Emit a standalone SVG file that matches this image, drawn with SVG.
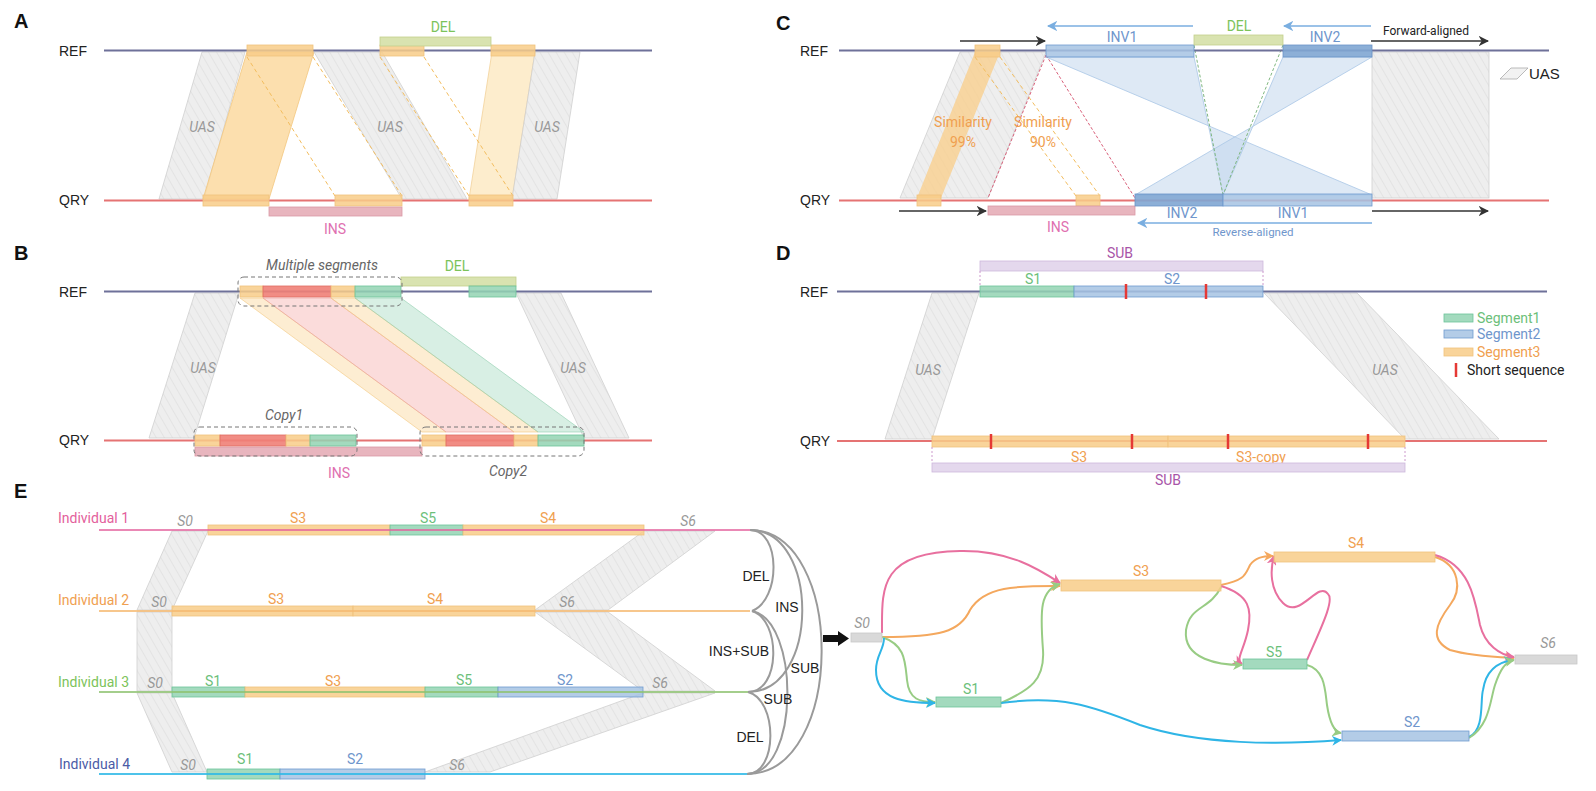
<svg xmlns="http://www.w3.org/2000/svg" width="1596" height="791" viewBox="0 0 1596 791">
<defs>
<pattern id="hatch" patternUnits="userSpaceOnUse" width="7" height="7" patternTransform="rotate(-30)">
<rect width="7" height="7" fill="#eeeeee"/>
<line x1="0" y1="0" x2="0" y2="7" stroke="#dedede" stroke-width="1.3"/>
</pattern>
<marker id="ak" viewBox="0 0 10 10" refX="9" refY="5" markerWidth="7" markerHeight="7" orient="auto-start-reverse"><path d="M0,0 L10,5 L0,10 L3,5 Z" fill="#333"/></marker>
<marker id="ab" viewBox="0 0 10 10" refX="9" refY="5" markerWidth="7" markerHeight="7" orient="auto-start-reverse"><path d="M0,0 L10,5 L0,10 L3,5 Z" fill="#7aaee0"/></marker>
<marker id="mp" viewBox="0 0 10 10" refX="9" refY="5" markerWidth="5" markerHeight="5" orient="auto"><path d="M0,0 L10,5 L0,10 L3,5 Z" fill="#e8709f"/></marker>
<marker id="mo" viewBox="0 0 10 10" refX="9" refY="5" markerWidth="5" markerHeight="5" orient="auto"><path d="M0,0 L10,5 L0,10 L3,5 Z" fill="#f4a85e"/></marker>
<marker id="mg" viewBox="0 0 10 10" refX="9" refY="5" markerWidth="5" markerHeight="5" orient="auto"><path d="M0,0 L10,5 L0,10 L3,5 Z" fill="#98cc84"/></marker>
<marker id="mc" viewBox="0 0 10 10" refX="9" refY="5" markerWidth="5" markerHeight="5" orient="auto"><path d="M0,0 L10,5 L0,10 L3,5 Z" fill="#2fb5e6"/></marker>
</defs>
<style>
.pl{font-family:"Liberation Sans",Arial,sans-serif;font-weight:bold;font-size:20px;fill:#111}
.t{font-family:Roboto,"Liberation Sans",sans-serif;font-size:14px}
.a{font-family:"Liberation Sans",Arial,sans-serif;font-size:14px;fill:#222}
.m{text-anchor:middle}
.blk{fill:#222}
.it{font-style:italic;fill:#999}
.uas{fill:url(#hatch);stroke:#cfcfcf;stroke-width:0.8}
.ref{stroke:#6e7199;stroke-width:2}
.qry{stroke:#e57373;stroke-width:2}
.ob{fill:#f8cd88;fill-opacity:0.85;stroke:#f1c27d;stroke-width:0.8}
.rb{fill:#ef7f77;fill-opacity:0.9;stroke:#e06b62;stroke-width:0.8}
.gb{fill:#93d4b3;fill-opacity:0.85;stroke:#6cc49a;stroke-width:0.8}
.bb{fill:#a6c3e3;fill-opacity:0.85;stroke:#6f9bd0;stroke-width:0.8}
.bd{fill:#7fa6d3;fill-opacity:0.9;stroke:#6a93c8;stroke-width:0.8}
.del{fill:#d9e3b0;stroke:#c3d08c;stroke-width:0.8}
.ins{fill:#e8b5be;stroke:#d99aa5;stroke-width:0.8}
.sub{fill:#e4d8ed;stroke:#cdb8dc;stroke-width:0.8}
.cg{fill:#7cc35a}.cp{fill:#e070b0}.co{fill:#f0a050}.cb{fill:#6f96cc}.cgs{fill:#6cbf7a}.cpu{fill:#a855a8}
.dso{stroke:#f3bd5e;stroke-width:1;stroke-dasharray:4 3;fill:none}
.dbox{fill:none;stroke:#777;stroke-width:1;stroke-dasharray:4 3}
.tick{stroke:#e53935;stroke-width:2.5}
.arc{fill:none;stroke:#9a9a9a;stroke-width:2}
.e{fill:none;stroke-width:2}
.inv{fill:#c3d7ec;fill-opacity:0.55;stroke:#a9c6e6;stroke-width:0.8}
</style>

<!-- Panel A -->
<g id="panelA">
<text class="pl" x="14" y="28">A</text>
<text class="a" x="59" y="56">REF</text>
<text class="a" x="59" y="205">QRY</text>
<polygon class="uas" points="202,52 245,52 204,199 159,199"/>
<polygon points="247,52 314,52 269,199 203,199" fill="#fbd9a0" fill-opacity="0.85" stroke="#f3c77e" stroke-width="0.8"/>
<polygon class="uas" points="314,52 382,52 467,199 402,199"/>
<polygon points="492,52 535,52 512,199 469,199" fill="#fdebc8" fill-opacity="0.9" stroke="#f3d29a" stroke-width="0.8"/>
<polygon class="uas" points="535,52 580,52 557,199 512,199"/>
<line class="dso" x1="247" y1="57" x2="335" y2="196"/>
<line class="dso" x1="313" y1="57" x2="402" y2="196"/>
<line class="dso" x1="380" y1="57" x2="469" y2="196"/>
<line class="dso" x1="424" y1="57" x2="513" y2="196"/>
<line class="ref" x1="104" y1="50.5" x2="652" y2="50.5"/>
<line class="qry" x1="104" y1="200.5" x2="652" y2="200.5"/>
<rect class="ob" x="247" y="45" width="66" height="11"/>
<rect class="ob" x="380" y="45" width="44" height="11"/>
<rect class="ob" x="491" y="45" width="44" height="11"/>
<rect class="ob" x="203" y="195" width="66" height="11"/>
<rect class="ob" x="335" y="195" width="67" height="11"/>
<rect class="ob" x="469" y="195" width="44" height="11"/>
<rect class="del" x="380" y="37" width="111" height="9"/>
<text class="t m cg" x="443" y="32">DEL</text>
<rect class="ins" x="269" y="207" width="133" height="9"/>
<text class="t m cp" x="335" y="234">INS</text>
<text class="t m it" x="202" y="132">UAS</text>
<text class="t m it" x="390" y="132">UAS</text>
<text class="t m it" x="547" y="132">UAS</text>
</g>

<!-- Panel B -->
<g id="panelB">
<text class="pl" x="14" y="260">B</text>
<text class="a" x="59" y="297">REF</text>
<text class="a" x="59" y="445">QRY</text>
<polygon class="uas" points="195,293 239,293 194,438 149,438"/>
<polygon class="uas" points="516,293 561,293 629,438 584,438"/>
<polygon points="240,298 263,298 446,432 422,432" fill="#fbdca5" fill-opacity="0.5" stroke="#f3c77e" stroke-width="0.6"/>
<polygon points="263,298 331,298 514,432 446,432" fill="#f7b2b0" fill-opacity="0.45" stroke="#eaa0a0" stroke-width="0.6"/>
<polygon points="331,298 355,298 538,432 514,432" fill="#fbdca5" fill-opacity="0.5" stroke="#f3c77e" stroke-width="0.6"/>
<polygon points="355,298 401,298 584,432 538,432" fill="#a9dcc3" fill-opacity="0.45" stroke="#90cfae" stroke-width="0.6"/>
<line class="ref" x1="104" y1="291.5" x2="652" y2="291.5"/>
<line class="qry" x1="104" y1="440.5" x2="652" y2="440.5"/>
<rect class="del" x="401" y="277" width="115" height="9"/>
<text class="t m cg" x="457" y="271">DEL</text>
<rect class="ob" x="240" y="286" width="23" height="11"/>
<rect class="rb" x="263" y="286" width="68" height="11"/>
<rect class="ob" x="331" y="286" width="24" height="11"/>
<rect class="gb" x="355" y="286" width="46" height="11"/>
<rect class="gb" x="469" y="286" width="47" height="11"/>
<rect class="dbox" x="238" y="277" width="164" height="29" rx="6"/>
<text class="t m it" x="322" y="270" style="fill:#666">Multiple segments</text>
<rect class="ins" x="195" y="447" width="227" height="9"/>
<rect class="ob" x="195" y="435" width="25" height="11"/>
<rect class="rb" x="220" y="435" width="66" height="11"/>
<rect class="ob" x="286" y="435" width="24" height="11"/>
<rect class="gb" x="310" y="435" width="46" height="11"/>
<rect class="ob" x="422" y="435" width="24" height="11"/>
<rect class="rb" x="446" y="435" width="68" height="11"/>
<rect class="ob" x="514" y="435" width="24" height="11"/>
<rect class="gb" x="538" y="435" width="46" height="11"/>
<rect class="dbox" x="194" y="427" width="163" height="29" rx="6"/>
<rect class="dbox" x="420" y="427" width="164" height="29" rx="6"/>
<text class="t m it" x="284" y="420" style="fill:#666">Copy1</text>
<text class="t m it" x="508" y="476" style="fill:#666">Copy2</text>
<text class="t m cp" x="339" y="478">INS</text>
<text class="t m it" x="203" y="373">UAS</text>
<text class="t m it" x="573" y="373">UAS</text>
</g>

<!-- Panel C -->
<g id="panelC">
<text class="pl" x="776" y="30">C</text>
<text class="a" x="800" y="56">REF</text>
<text class="a" x="800" y="205">QRY</text>
<polygon class="uas" points="960,52 1046,52 988,198 900,198"/>
<rect class="uas" x="1372" y="52" width="117" height="146"/>
<polygon points="975,52 1000,52 941,198 917,198" fill="#f9d08f" fill-opacity="0.8"/>
<polygon class="inv" points="1046,57 1194,57 1223,195 1372,195"/>
<polygon class="inv" points="1283,57 1372,57 1135,195 1223,195"/>
<line x1="1194" y1="45" x2="1223" y2="195" stroke="#7fb77f" stroke-width="1" stroke-dasharray="3 2"/>
<line x1="1283" y1="45" x2="1223" y2="195" stroke="#7fb77f" stroke-width="1" stroke-dasharray="3 2"/>
<line x1="1046" y1="55" x2="988" y2="198" stroke="#d9607a" stroke-width="1" stroke-dasharray="3 2"/>
<line x1="1046" y1="55" x2="1135" y2="198" stroke="#d9607a" stroke-width="1" stroke-dasharray="3 2"/>
<line class="dso" x1="975" y1="57" x2="1076" y2="196"/>
<line class="dso" x1="1000" y1="57" x2="1100" y2="196"/>
<line class="ref" x1="839" y1="50.5" x2="1549" y2="50.5"/>
<line class="qry" x1="839" y1="200.5" x2="1549" y2="200.5"/>
<rect class="ob" x="975" y="45" width="25" height="12"/>
<rect class="bb" x="1046" y="45" width="148" height="12"/>
<rect class="bd" x="1283" y="45" width="89" height="12"/>
<rect class="del" x="1194" y="35" width="89" height="10"/>
<rect class="ob" x="917" y="195" width="24" height="11"/>
<rect class="ob" x="1076" y="195" width="24" height="11"/>
<rect class="ins" x="988" y="206" width="147" height="9"/>
<rect class="bd" x="1135" y="194" width="88" height="12"/>
<rect class="bb" x="1223" y="194" width="149" height="12"/>
<line x1="960" y1="41" x2="1045" y2="41" stroke="#333" stroke-width="1.5" marker-end="url(#ak)"/>
<line x1="1371" y1="41" x2="1488" y2="41" stroke="#333" stroke-width="1.5" marker-end="url(#ak)"/>
<line x1="899" y1="211" x2="986" y2="211" stroke="#333" stroke-width="1.5" marker-end="url(#ak)"/>
<line x1="1372" y1="211" x2="1488" y2="211" stroke="#333" stroke-width="1.5" marker-end="url(#ak)"/>
<line x1="1193" y1="26" x2="1048" y2="26" stroke="#7aaee0" stroke-width="1.5" marker-end="url(#ab)"/>
<line x1="1371" y1="26" x2="1284" y2="26" stroke="#7aaee0" stroke-width="1.5" marker-end="url(#ab)"/>
<line x1="1372" y1="223" x2="1138" y2="223" stroke="#7aaee0" stroke-width="1.5" marker-end="url(#ab)"/>
<text class="t m cb" x="1122" y="42">INV1</text>
<text class="t m cb" x="1325" y="42">INV2</text>
<text class="t m cg" x="1239" y="31">DEL</text>
<text class="t blk" x="1383" y="35" style="font-size:12px">Forward-aligned</text>
<text class="t m co" x="963" y="127">Similarity</text>
<text class="t m co" x="963" y="147">99%</text>
<text class="t m co" x="1043" y="127">Similarity</text>
<text class="t m co" x="1043" y="147">90%</text>
<text class="t m cp" x="1058" y="232">INS</text>
<text class="t m cb" x="1182" y="218">INV2</text>
<text class="t m cb" x="1293" y="218">INV1</text>
<text class="t m cb" x="1253" y="236" style="font-size:11.5px">Reverse-aligned</text>
<g id="legendUAS">
<polygon points="1500,79 1511,68 1528,68 1517,79" fill="#f2f2f2" stroke="#aaa" stroke-width="0.8"/>
<text class="a" x="1529" y="79" style="font-size:15px">UAS</text>
</g>
</g>

<!-- Panel D -->
<g id="panelD">
<text class="pl" x="776" y="260">D</text>
<text class="a" x="800" y="297">REF</text>
<text class="a" x="800" y="446">QRY</text>
<polygon class="uas" points="932,293 979,293 932,439 885,439"/>
<polygon class="uas" points="1264,293 1357,293 1499,439 1405,439"/>
<line class="ref" x1="837" y1="291.5" x2="1547" y2="291.5"/>
<line class="qry" x1="837" y1="441" x2="1547" y2="441"/>
<rect class="sub" x="980" y="261" width="283" height="10"/>
<text class="t m cpu" x="1120" y="258">SUB</text>
<line x1="980" y1="271" x2="980" y2="286" stroke="#c080c0" stroke-width="0.8" stroke-dasharray="2 2"/>
<line x1="1263" y1="271" x2="1263" y2="286" stroke="#c080c0" stroke-width="0.8" stroke-dasharray="2 2"/>
<rect class="gb" x="980" y="286" width="94" height="11"/>
<rect class="bb" x="1074" y="286" width="189" height="11"/>
<line class="tick" x1="1126" y1="284" x2="1126" y2="299"/>
<line class="tick" x1="1206" y1="284" x2="1206" y2="299"/>
<text class="t m cgs" x="1033" y="284">S1</text>
<text class="t m cb" x="1172" y="284">S2</text>
<rect class="ob" x="932" y="436" width="236" height="11"/>
<rect class="ob" x="1168" y="436" width="237" height="11"/>
<line class="tick" x1="991" y1="434" x2="991" y2="449"/>
<line class="tick" x1="1132" y1="434" x2="1132" y2="449"/>
<line class="tick" x1="1228" y1="434" x2="1228" y2="449"/>
<line class="tick" x1="1368" y1="434" x2="1368" y2="449"/>
<text class="t m co" x="1079" y="462">S3</text>
<text class="t m co" x="1261" y="462">S3-copy</text>
<line x1="932" y1="447" x2="932" y2="463" stroke="#c080c0" stroke-width="0.8" stroke-dasharray="2 2"/>
<line x1="1405" y1="447" x2="1405" y2="463" stroke="#c080c0" stroke-width="0.8" stroke-dasharray="2 2"/>
<rect class="sub" x="932" y="463" width="473" height="9"/>
<text class="t m cpu" x="1168" y="485">SUB</text>
<text class="t m it" x="928" y="375">UAS</text>
<text class="t m it" x="1385" y="375">UAS</text>
<g id="legendD">
<rect class="gb" x="1444" y="314" width="29" height="8"/>
<rect class="bb" x="1444" y="330" width="29" height="8"/>
<rect class="ob" x="1444" y="348" width="29" height="8"/>
<line class="tick" x1="1456" y1="363" x2="1456" y2="377"/>
<text class="t cgs" x="1477" y="323">Segment1</text>
<text class="t cb" x="1477" y="339">Segment2</text>
<text class="t co" x="1477" y="357">Segment3</text>
<text class="t blk" x="1467" y="375">Short sequence</text>
</g>
</g>

<!-- Panel E left -->
<g id="panelE">
<text class="pl" x="14" y="498">E</text>
<g id="uasE">
<polygon class="uas" points="172,531 208,531 172,610 137,610"/>
<polygon class="uas" points="137,612 172,612 172,691 137,691"/>
<polygon class="uas" points="137,693 172,693 207,772 172,772"/>
<polygon class="uas" points="644,531 715,531 608,610 535,610"/>
<polygon class="uas" points="535,612 608,612 715,691 643,691"/>
<polygon class="uas" points="643,693 715,693 490,772 425,772"/>
</g>
<g id="ind1">
<text class="t" x="58" y="523" style="fill:#e3609c">Individual 1</text>
<rect class="ob" x="208" y="525" width="182" height="10"/>
<rect class="gb" x="390" y="525" width="73" height="10"/>
<rect class="ob" x="463" y="525" width="181" height="10"/>
<line x1="99" y1="530" x2="750" y2="530" stroke="#e3609c" stroke-width="2" stroke-opacity="0.75"/>
<text class="t m it" x="185" y="526">S0</text>
<text class="t m co" x="298" y="523">S3</text>
<text class="t m cgs" x="428" y="523">S5</text>
<text class="t m co" x="548" y="523">S4</text>
<text class="t m it" x="688" y="526">S6</text>
</g>
<g id="ind2">
<text class="t co" x="58" y="605">Individual 2</text>
<rect class="ob" x="172" y="606" width="181" height="10"/>
<rect class="ob" x="353" y="606" width="182" height="10"/>
<line x1="99" y1="611" x2="750" y2="611" stroke="#f5b971" stroke-width="2" stroke-opacity="0.8"/>
<text class="t m it" x="159" y="607">S0</text>
<text class="t m co" x="276" y="604">S3</text>
<text class="t m co" x="435" y="604">S4</text>
<text class="t m it" x="567" y="607">S6</text>
</g>
<g id="ind3">
<text class="t cg" x="58" y="687">Individual 3</text>
<rect class="gb" x="172" y="687" width="73" height="10"/>
<rect class="ob" x="245" y="687" width="180" height="10"/>
<rect class="gb" x="425" y="687" width="73" height="10"/>
<rect class="bb" x="498" y="687" width="145" height="10"/>
<line x1="99" y1="692" x2="748" y2="692" stroke="#8dc26f" stroke-width="2" stroke-opacity="0.8"/>
<text class="t m it" x="155" y="688">S0</text>
<text class="t m cgs" x="213" y="686">S1</text>
<text class="t m co" x="333" y="686">S3</text>
<text class="t m cgs" x="464" y="685">S5</text>
<text class="t m cb" x="565" y="685">S2</text>
<text class="t m it" x="660" y="688">S6</text>
</g>
<g id="ind4">
<text class="t" x="59" y="769" style="fill:#4b5ba6">Individual 4</text>
<rect class="gb" x="207" y="769" width="73" height="10"/>
<rect class="bb" x="280" y="769" width="145" height="10"/>
<line x1="99" y1="774" x2="747" y2="774" stroke="#2eb8e6" stroke-width="2" stroke-opacity="0.85"/>
<text class="t m it" x="188" y="770">S0</text>
<text class="t m cgs" x="245" y="764">S1</text>
<text class="t m cb" x="355" y="764">S2</text>
<text class="t m it" x="457" y="770">S6</text>
</g>
<g id="arcs">
<path class="arc" d="M750,530 C781,530 781,600 752,611"/>
<path class="arc" d="M750,530 C820,530 820,692 748,692"/>
<path class="arc" d="M750,530 C846,530 846,774 747,774"/>
<path class="arc" d="M752,611 C781,620 781,692 748,692"/>
<path class="arc" d="M752,611 C800,620 800,774 747,774"/>
<path class="arc" d="M748,692 C778,700 778,774 747,774"/>
<text class="a m" x="756" y="581">DEL</text>
<text class="a m" x="787" y="612">INS</text>
<text class="a m" x="739" y="656">INS+SUB</text>
<text class="a m" x="805" y="673">SUB</text>
<text class="a m" x="778" y="704">SUB</text>
<text class="a m" x="750" y="742">DEL</text>
</g>
<polygon id="bigArrow" points="823,635 838,635 838,631 849,638.5 838,646 838,642 823,642" fill="#111"/>
</g>

<!-- Panel E graph -->
<g id="graph">
<g id="connectors">
<path class="e" stroke="#e8709f" marker-end="url(#mp)" d="M882,633 C882,590 878,552 960,551 C1010,550 1040,570 1060,583"/>
<path class="e" stroke="#f4a85e" marker-end="url(#mo)" d="M882,637 C940,637 960,632 970,610 C985,585 1020,586 1060,586"/>
<path class="e" stroke="#98cc84" marker-end="url(#mg)" d="M882,637 C905,645 905,660 907,680 C909,700 920,702 935,702"/>
<path class="e" stroke="#2fb5e6" marker-end="url(#mc)" d="M884,638 C884,650 876,655 876,670 C876,700 905,703 935,703"/>
<path class="e" stroke="#98cc84" marker-end="url(#mg)" d="M1001,703 C1030,690 1045,680 1043,650 C1040,610 1040,590 1060,584"/>
<path class="e" stroke="#2fb5e6" marker-end="url(#mc)" d="M1001,703 C1060,695 1090,705 1140,725 C1200,745 1280,745 1341,740"/>
<path class="e" stroke="#f4a85e" marker-end="url(#mo)" d="M1221,585 C1245,580 1245,575 1250,565 C1255,558 1262,556 1273,556"/>
<path class="e" stroke="#e8709f" marker-end="url(#mp)" d="M1221,586 C1250,595 1252,610 1248,630 C1244,650 1235,660 1242,664"/>
<path class="e" stroke="#98cc84" marker-end="url(#mg)" d="M1221,587 C1210,610 1190,605 1186,630 C1183,660 1220,665 1242,665"/>
<path class="e" stroke="#e8709f" marker-end="url(#mp)" d="M1307,660 C1320,630 1335,600 1328,594 C1318,580 1300,620 1283,603 C1270,590 1270,570 1274,556"/>
<path class="e" stroke="#98cc84" marker-end="url(#mg)" d="M1307,665 C1325,670 1325,690 1327,705 C1330,725 1335,732 1341,733"/>
<path class="e" stroke="#f4a85e" marker-end="url(#mo)" d="M1435,557 C1460,565 1462,590 1450,605 C1435,625 1430,640 1450,650 C1470,656 1495,657 1514,658"/>
<path class="e" stroke="#e8709f" marker-end="url(#mp)" d="M1435,555 C1470,565 1475,600 1480,625 C1485,645 1500,655 1514,657"/>
<path class="e" stroke="#2fb5e6" marker-end="url(#mc)" d="M1469,737 C1485,730 1480,700 1483,690 C1486,670 1498,662 1513,660"/>
<path class="e" stroke="#98cc84" marker-end="url(#mg)" d="M1469,738 C1490,725 1490,700 1495,685 C1500,670 1505,662 1514,660"/>
</g>
<g id="nS0"><rect x="851" y="633" width="31" height="9" fill="#d9d9d9" stroke="#c8c8c8" stroke-width="0.8"/><text class="t m it" x="862" y="628">S0</text></g>
<g id="nS3"><rect class="ob" x="1061" y="580" width="160" height="11"/><text class="t m co" x="1141" y="576">S3</text></g>
<g id="nS4"><rect class="ob" x="1274" y="552" width="161" height="10"/><text class="t m co" x="1356" y="548">S4</text></g>
<g id="nS5"><rect class="gb" x="1243" y="659" width="64" height="10"/><text class="t m cgs" x="1274" y="657">S5</text></g>
<g id="nS1"><rect class="gb" x="936" y="697" width="65" height="10"/><text class="t m cgs" x="971" y="694">S1</text></g>
<g id="nS2"><rect class="bb" x="1342" y="731" width="127" height="10"/><text class="t m cb" x="1412" y="727">S2</text></g>
<g id="nS6"><rect x="1515" y="655" width="62" height="9" fill="#d9d9d9" stroke="#c8c8c8" stroke-width="0.8"/><text class="t m it" x="1548" y="648">S6</text></g>
</g>
</svg>
